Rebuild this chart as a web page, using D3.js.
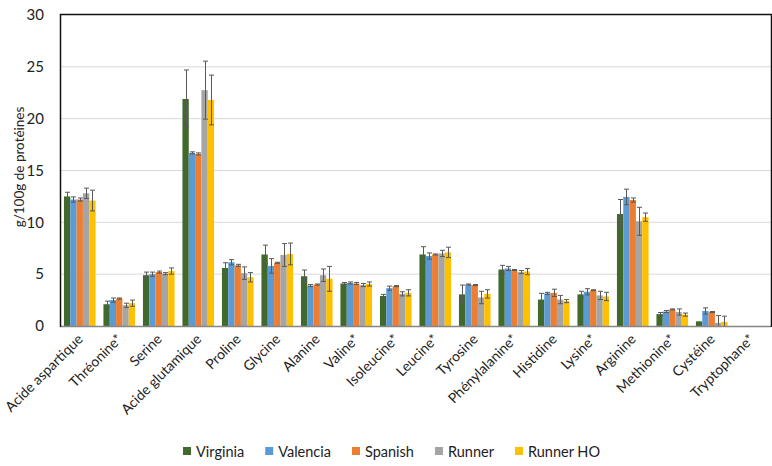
<!DOCTYPE html>
<html><head><meta charset="utf-8">
<script src="https://cdn.jsdelivr.net/npm/d3@7"></script>
<style>
body{margin:0;background:#fff;}
svg{display:block;font-family:Lato, "Open Sans", sans-serif;}
</style></head>
<body><svg id="chart" width="772" height="466"></svg>
<script>
const categories = ["Acide aspartique","Thréonine*","Serine","Acide glutamique","Proline","Glycine","Alanine","Valine*","Isoleucine*","Leucine*","Tyrosine","Phénylalanine*","Histidine","Lysine*","Arginine","Methionine*","Cystéine","Tryptophane*"];
const seriesNames = ["Virginia","Valencia","Spanish","Runner","Runner HO"];
const seriesColors = ["#40692b","#5b9bd5","#ed7d31","#a5a5a5","#ffc000"];
const virginia    = [12.5, 2.1, 4.9, 21.9, 5.6, 6.9, 4.8, 4.1, 2.9, 6.9, 3.05, 5.45, 2.55, 3.05, 10.8, 1.15, 0.45, null];
const virginiaErr = [0.4, 0.3, 0.3, 2.8, 0.5, 0.9, 0.6, 0.1, 0.15, 0.75, 0.9, 0.4, 0.6, 0.3, 1.4, 0.15, 0, null];
const valencia    = [12.2, 2.5, 5.0, 16.7, 6.15, 5.8, 3.9, 4.15, 3.65, 6.75, 4.0, 5.55, 3.15, 3.3, 12.45, 1.4, 1.45, null];
const valenciaErr = [0.25, 0.2, 0.2, 0.1, 0.25, 0.7, 0.1, 0.1, 0.2, 0.3, 0.05, 0.2, 0.1, 0.3, 0.75, 0.1, 0.3, null];
const spanish     = [12.2, 2.65, 5.2, 16.6, 5.85, 6.1, 4.0, 4.1, 3.85, 6.9, 3.95, 5.4, 3.2, 3.45, 12.15, 1.6, 1.35, null];
const spanishErr  = [0.15, 0.05, 0.1, 0.1, 0.1, 0.05, 0.05, 0.1, 0.05, 0.05, 0.05, 0.05, 0.35, 0.05, 0.2, 0.05, 0.05, null];
const runner      = [12.8, 2.0, 5.05, 22.75, 5.1, 6.85, 4.9, 3.95, 3.1, 7.0, 2.75, 5.2, 2.55, 2.95, 10.1, 1.35, 0.3, null];
const runnerErr   = [0.5, 0.2, 0.1, 2.8, 0.6, 1.1, 0.6, 0.15, 0.2, 0.3, 0.6, 0.15, 0.4, 0.4, 1.35, 0.3, 0.7, null];
const runnerHO    = [12.1, 2.2, 5.3, 21.8, 4.7, 6.95, 4.55, 4.05, 3.2, 7.1, 3.1, 5.25, 2.4, 2.85, 10.5, 1.1, 0.4, null];
const runnerHOErr = [1.0, 0.3, 0.3, 2.4, 0.45, 1.05, 1.2, 0.2, 0.3, 0.5, 0.4, 0.3, 0.15, 0.4, 0.4, 0.15, 0.55, null];
const yTicks = [0,5,10,15,20,25,30];
const yTitle = "g/100g de protéines";

const values = [virginia, valencia, spanish, runner, runnerHO];
const errors = [virginiaErr, valenciaErr, spanishErr, runnerErr, runnerHOErr];

const svg = d3.select("#chart");
const m = {l:60, r:771, t:15, b:326};
const x = d3.scaleBand().domain(categories).range([m.l, m.r]).paddingInner(0.2).paddingOuter(0.1);
const xs = d3.scaleBand().domain(seriesNames).range([0, x.bandwidth()]);
const y = d3.scaleLinear().domain([0,30]).range([m.b, m.t]);

// gridlines
svg.append("g").selectAll("line").data(yTicks.filter(t=>t>0 && t<30)).join("line")
  .attr("x1", m.l).attr("x2", m.r).attr("y1", d=>y(d)).attr("y2", d=>y(d))
  .attr("stroke","#d9d9d9").attr("stroke-width",1);

// y axis labels
const yAxis = d3.axisLeft(y).tickValues(yTicks).tickSize(0).tickPadding(16);
const ya = svg.append("g").attr("transform",`translate(${m.l},0)`).call(yAxis);
ya.select(".domain").remove();
ya.selectAll("text").attr("font-family","Lato, 'Open Sans', sans-serif").attr("font-size",15).attr("fill","#222");

// bars
const data = [];
categories.forEach((c,i)=>{
  seriesNames.forEach((s,j)=>{
    if (values[j][i] != null) data.push({c, s, j, v:values[j][i], e:errors[j][i]});
  });
});
const g = svg.append("g");
g.selectAll("rect").data(data).join("rect")
  .attr("x", d=>x(d.c)+xs(d.s)).attr("width", xs.bandwidth())
  .attr("y", d=>y(d.v)).attr("height", d=>y(0)-y(d.v))
  .attr("fill", d=>seriesColors[d.j]);

// error bars
const eb = svg.append("g").attr("stroke","#595959").attr("stroke-width",1).attr("fill","none");
data.filter(d=>d.e>0).forEach(d=>{
  const cx = Math.round(x(d.c)+xs(d.s)+xs.bandwidth()/2)+0.5;
  const y1 = y(d.v+d.e), y2 = y(Math.max(0,d.v-d.e));
  eb.append("line").attr("x1",cx).attr("x2",cx).attr("y1",y1).attr("y2",y2);
  eb.append("line").attr("x1",cx-2.5).attr("x2",cx+2.5).attr("y1",y1).attr("y2",y1);
  if (d.v-d.e > 0) eb.append("line").attr("x1",cx-2.5).attr("x2",cx+2.5).attr("y1",y2).attr("y2",y2);
});

// frame
svg.append("line").attr("x1",m.l).attr("x2",m.r).attr("y1",y(0)+0.5).attr("y2",y(0)+0.5).attr("stroke","#868686").attr("stroke-width",1.5);
svg.append("path").attr("d",`M${m.l+0.5},${y(0)+1}V${m.t-0.5}H${m.r+0.5}V${y(0)+1}`).attr("fill","none").attr("stroke","#111").attr("stroke-width",1.5);

// x labels
const xa = svg.append("g");
xa.selectAll("text").data(categories).join("text")
  .attr("transform", d=>`translate(${x(d)+x.bandwidth()/2+4},${m.b+14}) rotate(-45)`)
  .attr("text-anchor","end").attr("font-size",14).attr("fill","#222").text(d=>d);

// y title
svg.append("text").attr("transform","translate(24,167) rotate(-90)").attr("text-anchor","middle")
  .attr("font-size",13.5).attr("fill","#222").text(yTitle);

// legend
const lg = svg.append("g");
let lx = 183;
seriesNames.forEach((s,j)=>{
  lg.append("rect").attr("x",lx).attr("y",447).attr("width",8).attr("height",8).attr("fill",seriesColors[j]);
  const t = lg.append("text").attr("x",lx+13).attr("y",456.5).attr("font-size",14.5).attr("fill","#222").text(s);
  lx += 13 + t.node().getComputedTextLength() + 21;
});
</script></body></html>
